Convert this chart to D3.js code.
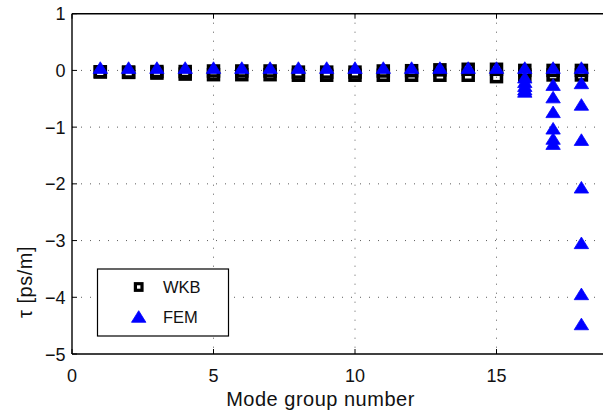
<!DOCTYPE html>
<html><head><meta charset="utf-8">
<script src="https://cdn.jsdelivr.net/npm/d3@7"></script>
<style>
html,body{margin:0;padding:0;background:#fff;}
svg{display:block;}
text{font-family:"Liberation Sans",Arial,Helvetica,sans-serif;fill:#111;}
</style></head>
<body>
<svg id="chart" width="603" height="413"></svg>
<script>
// ---- data ----
const groups = [1,2,3,4,5,6,7,8,9,10,11,12,13,14,15,16,17,18];
const wkbHigh = [-0.025,-0.03,-0.02,-0.02,-0.01,-0.01,-0.01,-0.03,-0.03,-0.03,-0.01,-0.005,0.01,0.02,0.02,0.0,0.0,0.0];
const wkbLow  = [-0.025,-0.035,-0.047,-0.065,-0.075,-0.075,-0.075,-0.085,-0.085,-0.085,-0.085,-0.085,-0.085,-0.085,-0.11,-0.08,-0.08,-0.08];
const femLowGroups = [1,2,3,4,5,6,7,8,9,10,11,12,13,14,15];
const femLowValues = [0.05,0.05,0.05,0.05,0.05,0.05,0.05,0.05,0.05,0.05,0.05,0.05,0.05,0.05,0.05];
const fem16 = [0.05,-0.12,-0.2,-0.27,-0.33,-0.37];
const fem17 = [0.05,-0.25,-0.47,-0.73,-1.02,-1.2,-1.29];
const fem18 = [0.05,-0.22,-0.6,-1.22,-2.06,-3.04,-3.94,-4.47];
const xTicks = [0,5,10,15];
const yTicks = [1,0,-1,-2,-3,-4,-5];
const legendLabels = ["WKB","FEM"];

// ---- layout ----
const svg = d3.select("#chart");
const L = 72, T = 13.7, B = 354, R = 609.7;
const x = d3.scaleLinear().domain([0,19]).range([L,R]);
const y = d3.scaleLinear().domain([-5,1]).range([B,T]);

// grid
const grid = svg.append("g").attr("stroke","#333").attr("stroke-width",0.8).attr("stroke-dasharray","1,8");
grid.selectAll("line.v").data(xTicks.filter(d=>d>0)).enter().append("line")
  .attr("x1",d=>x(d)).attr("x2",d=>x(d)).attr("y1",T).attr("y2",B);
grid.selectAll("line.h").data(yTicks.filter(d=>d<1 && d>-5)).enter().append("line")
  .attr("y1",d=>y(d)).attr("y2",d=>y(d)).attr("x1",L).attr("x2",R);

// WKB squares
const sq = 10;
const wkbPts = [];
groups.forEach((g,i)=>{ wkbPts.push([g,wkbHigh[i]]); wkbPts.push([g,wkbLow[i]]); });
svg.append("g").selectAll("rect").data(wkbPts).enter().append("rect")
  .attr("x",d=>x(d[0])-sq/2).attr("y",d=>y(d[1])-sq/2).attr("width",sq).attr("height",sq)
  .attr("fill","none").attr("stroke","#000").attr("stroke-width",3.5);

// FEM triangles
const femPts = [];
femLowGroups.forEach((g,i)=>femPts.push([g,femLowValues[i]]));
fem16.forEach(v=>femPts.push([16,v]));
fem17.forEach(v=>femPts.push([17,v]));
fem18.forEach(v=>femPts.push([18,v]));
const tri = "M0,-5.8L7.2,5.8L-7.2,5.8Z";
svg.append("g").selectAll("path").data(femPts).enter().append("path")
  .attr("d",tri).attr("transform",d=>`translate(${x(d[0])},${y(d[1])})`)
  .attr("fill","#0000ff").attr("stroke","#0000ff").attr("stroke-width",0.8);

// axes box
const ax = svg.append("g").attr("stroke","#000").attr("stroke-width",1.4).attr("fill","none");
ax.append("line").attr("x1",L).attr("x2",L).attr("y1",T).attr("y2",B);
ax.append("line").attr("x1",L).attr("x2",R).attr("y1",B).attr("y2",B);
ax.append("line").attr("x1",L).attr("x2",R).attr("y1",T).attr("y2",T);
// ticks (inside)
const tk = svg.append("g").attr("stroke","#000").attr("stroke-width",1);
tk.selectAll("line.xb").data(xTicks).enter().append("line")
  .attr("x1",d=>x(d)).attr("x2",d=>x(d)).attr("y1",B).attr("y2",B-5);
tk.selectAll("line.xt").data(xTicks).enter().append("line")
  .attr("x1",d=>x(d)).attr("x2",d=>x(d)).attr("y1",T).attr("y2",T+5);
tk.selectAll("line.yl").data(yTicks).enter().append("line")
  .attr("x1",L).attr("x2",L+5).attr("y1",d=>y(d)).attr("y2",d=>y(d));

// tick labels
const fmt = d => d<0 ? "\u2212"+Math.abs(d) : String(d);
svg.append("g").selectAll("text").data(xTicks).enter().append("text")
  .attr("x",d=>x(d)).attr("y",382).attr("text-anchor","middle").attr("font-size",18).text(fmt);
svg.append("g").selectAll("text").data(yTicks).enter().append("text")
  .attr("x",65.5).attr("y",d=>y(d)+6.5).attr("text-anchor","end").attr("font-size",18).text(fmt);

// axis labels
svg.append("text").attr("x",320.5).attr("y",406).attr("text-anchor","middle")
  .attr("font-size",20).attr("letter-spacing",0.5).text("Mode group number");
svg.append("text").attr("transform","translate(32,282) rotate(-90)").attr("text-anchor","middle")
  .attr("font-size",20).attr("letter-spacing",0.5).text("\u03c4 [ps/m]");

// legend
const lg = svg.append("g");
lg.append("rect").attr("x",97.5).attr("y",269).attr("width",131).attr("height",67)
  .attr("fill","#fff").attr("stroke","#000").attr("stroke-width",1.2);
lg.append("rect").attr("x",138.7-3.3).attr("y",287-3.3).attr("width",6.6).attr("height",6.6)
  .attr("fill","none").attr("stroke","#000").attr("stroke-width",3.2);
lg.append("path").attr("d",tri).attr("transform","translate(138.7,316.5)")
  .attr("fill","#0000ff").attr("stroke","#0000ff").attr("stroke-width",0.8);
lg.selectAll("text").data(legendLabels).enter().append("text")
  .attr("x",163).attr("y",(d,i)=>293.2+i*29.4).attr("font-size",16.5).text(d=>d);
</script>
</body></html>
